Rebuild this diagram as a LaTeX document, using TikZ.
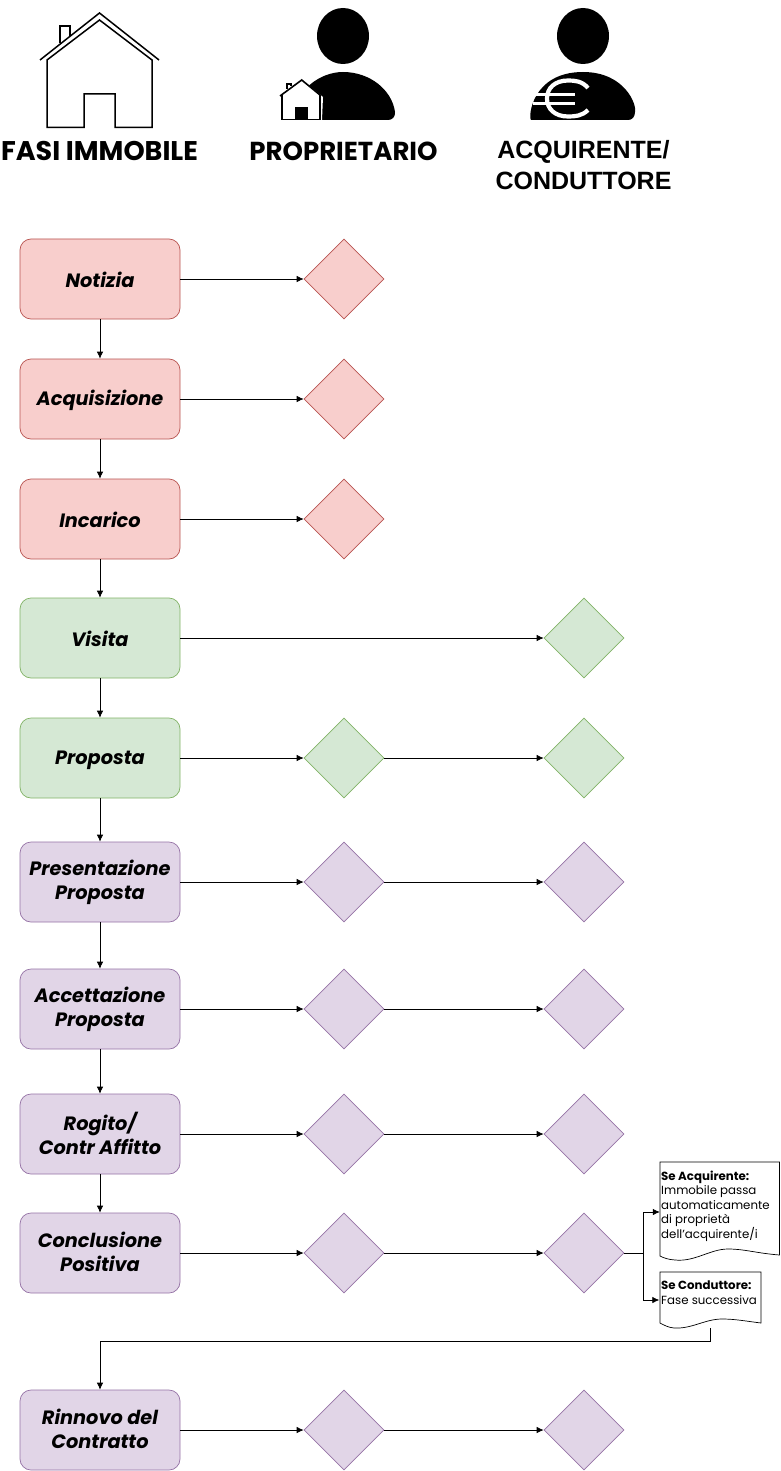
\documentclass[tikz,border=0pt]{standalone}
\usepackage{fontspec}
\setmainfont{Poppins}
\newfontfamily\helv{Liberation Sans}
\usetikzlibrary{shapes.geometric,arrows.meta}
\definecolor{rfill}{HTML}{F8CECC}\definecolor{rline}{HTML}{B85450}
\definecolor{gfill}{HTML}{D5E8D4}\definecolor{gline}{HTML}{82B366}
\definecolor{pfill}{HTML}{E1D5E7}\definecolor{pline}{HTML}{9673A6}
\newcommand\sa{\rule[-2pt]{0pt}{20pt}}
\tikzset{
  x=1pt,y=-1pt,
  box/.style={draw,rounded corners=11pt,minimum width=160pt,minimum height=80pt,inner sep=0pt,align=center,line width=.7pt,text=black,font=\fontsize{19.3}{24}\selectfont\bfseries\itshape,execute at begin node=\sa},
  dia/.style={draw,diamond,aspect=1,minimum width=80pt,minimum height=80pt,inner sep=0pt,line width=.7pt},
  red/.style={fill=rfill,draw=rline},
  green/.style={fill=gfill,draw=gline},
  purple/.style={fill=pfill,draw=pline},
  flow/.style={draw=black,line width=.75pt,-{Latex[length=7pt,width=6.5pt]}},
  icon/.style={draw=black,line width=1.5pt,line join=miter},
  doc/.style={minimum width=120pt,minimum height=100pt,inner sep=0pt},
  doctext/.style={anchor=north west,inner sep=0pt,align=left,font=\fontsize{11.8}{14.6}\selectfont},
  head/.style={align=center,inner sep=0pt}
}
\begin{document}
\begin{tikzpicture}
\useasboundingbox (0,0) rectangle (780,1471);
\fill[white] (0,0) rectangle (780,1471);
% house
\draw[icon] (40,60) -- (99.5,13) -- (159,60);
\draw[icon] (60,43) -- (60,26) -- (70,26) -- (70,36);
\draw[icon] (47,127.5) -- (47,60) -- (99.5,20) -- (152,60) -- (152,127.5) -- (115,127.5) -- (115,94) -- (84,94) -- (84,127.5) -- cycle;
\node[head,font=\fontsize{27}{28}\selectfont\bfseries] (t1) at (99.5,151) {FASI IMMOBILE};
% proprietario
\fill (343,36) ellipse [x radius=26,y radius=28];
\fill (291,120) .. controls (295,90) and (320,72) .. (343,72) .. controls (370,72) and (392,90) .. (395,112) .. controls (395.5,117) and (392,120) .. (388,120) -- cycle;
\fill[white] (280,97) -- (302,80) -- (323,97) -- (322,120) -- (282,120) -- cycle;
\draw[icon,line width=1.6pt] (280,96) -- (301.7,80) -- (320,95);
\draw[icon,line width=1.2pt] (287,89) -- (287,84) -- (291,84) -- (291,86);
\draw[icon,line width=1.2pt] (282,94) -- (282,119.5) -- (295,119.5);
\draw[icon,line width=1.2pt] (320,95) -- (320,119.5) -- (308,119.5);
\fill (295,107) rectangle (308,120);
\node[head,font=\fontsize{26}{28}\selectfont\bfseries] (t2) at (343.5,151) {PROPRIETARIO};
% acquirente
\fill (583,36) ellipse [x radius=26,y radius=28];
\fill (531,120) .. controls (528,117) and (532,72) .. (583,72) .. controls (625,72) and (637,105) .. (635,112) .. controls (635,117) and (632,120) .. (628,120) -- cycle;
\draw[white,line width=4.2pt] (588,88) .. controls (582,81) and (575,80.5) .. (568,80.5) .. controls (555,80.5) and (547,88) .. (547,98.5) .. controls (547,109) and (555,116.5) .. (568,116.5) .. controls (575,116.5) and (582,116) .. (588,110);
\fill[white] (535,93) rectangle (575,96.5);
\fill[white] (533,102) rectangle (575,105.5);
\node[head,font=\helv\fontsize{25}{31}\selectfont\bfseries] (t3) at (583.5,165) {ACQUIRENTE/\\CONDUTTORE};
% boxes
\node[box,red] (n1) at (100,279) {Notizia};
\node[box,red] (n2) at (100,399) {Acquisizione};
\node[box,red] (n3) at (100,519) {Incarico};
\node[box,green] (n4) at (100,638) {Visita};
\node[box,green] (n5) at (100,758) {Proposta};
\node[box,purple] (n6) at (100,882) {Presentazione\\\sa Proposta};
\node[box,purple] (n7) at (100,1009) {Accettazione\\\sa Proposta};
\node[box,purple] (n8) at (100,1134) {Rogito/\\\sa Contr Affitto};
\node[box,purple] (n9) at (100,1253) {Conclusione\\\sa Positiva};
\node[box,purple] (n10) at (100,1430) {Rinnovo del\\\sa Contratto};
% diamonds
\node[dia,red] (a1) at (344,279) {};
\node[dia,red] (a2) at (344,399) {};
\node[dia,red] (a3) at (344,519) {};
\node[dia,green] (b4) at (584,638) {};
\node[dia,green] (a5) at (344,758) {};
\node[dia,green] (b5) at (584,758) {};
\node[dia,purple] (a6) at (344,882) {};
\node[dia,purple] (b6) at (584,882) {};
\node[dia,purple] (a7) at (344,1009) {};
\node[dia,purple] (b7) at (584,1009) {};
\node[dia,purple] (a8) at (344,1134) {};
\node[dia,purple] (b8) at (584,1134) {};
\node[dia,purple] (a9) at (344,1253) {};
\node[dia,purple] (b9) at (584,1253) {};
\node[dia,purple] (a10) at (344,1430) {};
\node[dia,purple] (b10) at (584,1430) {};
% documents
\node[doc] (d1) at (720,1212) {};
\node[doc,minimum width=102pt,minimum height=56pt] (d2) at (710.5,1300) {};
\draw[line width=.7pt,fill=white] (660,1162) -- (779.5,1162) -- (779.5,1255) .. controls (755,1253) and (745,1249) .. (728,1249) .. controls (710,1249) and (695,1262) .. (675,1260) .. controls (668,1259.5) and (664,1258) .. (660,1256) -- cycle;
\draw[line width=.7pt,fill=white] (660,1272) -- (761,1272) -- (761,1323) .. controls (745,1321) and (735,1319) .. (722,1319) .. controls (705,1319) and (692,1329) .. (674,1328) .. controls (668,1327.5) and (664,1325) .. (660,1323) -- cycle;
\node[doctext] (s1) at (661,1170.5) {\textbf{Se Acquirente:}\\Immobile passa\\automaticamente\\di proprietà\\dell'acquirente/i};
\node[doctext] (s2) at (661,1281) {\textbf{Se Conduttore:}\\Fase successiva};
% connectors
\foreach \u/\v in {n1/n2,n2/n3,n3/n4,n4/n5,n5/n6,n6/n7,n7/n8,n8/n9,n1/a1,n2/a2,n3/a3,n4/b4,n5/a5,a5/b5,n6/a6,a6/b6,n7/a7,a7/b7,n8/a8,a8/b8,n9/a9,a9/b9,n10/a10,a10/b10}
  \draw[flow] (\u) -- (\v);
\draw[flow] (b9.east) -- ++(19,0) |- (d1.west);
\draw[flow] (b9.east) -- ++(19,0) |- (d2.west);
\draw[flow] (d2.south) -- ++(0,13) -| (n10.north);
\end{tikzpicture}
\end{document}
